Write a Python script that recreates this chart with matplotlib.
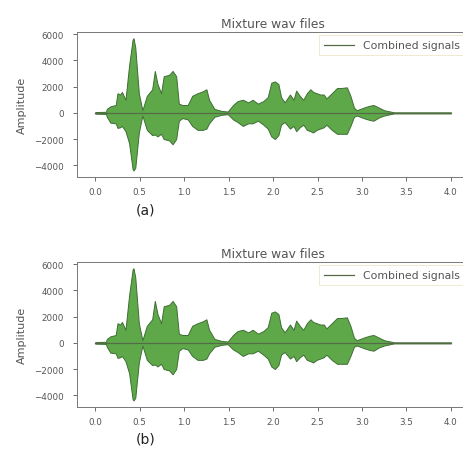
import numpy as np
import matplotlib
matplotlib.use("Agg")
import matplotlib.pyplot as plt

# envelope of the mixture waveform (time in s, amplitude)
t_env = [0.00, 0.12, 0.13, 0.17, 0.23, 0.25, 0.28, 0.30, 0.34, 0.38, 0.42, 0.43,
         0.45, 0.49, 0.53, 0.58, 0.64, 0.67, 0.70, 0.74, 0.77, 0.83, 0.87, 0.91,
         0.94, 0.98, 1.04, 1.09, 1.15, 1.21, 1.25, 1.28, 1.34, 1.42, 1.49, 1.55,
         1.60, 1.66, 1.72, 1.77, 1.83, 1.89, 1.94, 1.98, 2.02, 2.06, 2.09, 2.13,
         2.19, 2.23, 2.26, 2.30, 2.34, 2.38, 2.42, 2.45, 2.49, 2.53, 2.57, 2.60,
         2.66, 2.72, 2.77, 2.83, 2.87, 2.91, 2.94, 2.98, 3.04, 3.09, 3.13, 3.19,
         3.25, 3.32, 3.36, 4.00]
upper = [60, 80, 300, 500, 600, 1500, 1400, 1600, 1000, 3600, 5600, 5700,
         5000, 1500, 200, 1300, 1800, 3200, 2200, 1500, 2800, 2900, 3200, 2800,
         700, 600, 600, 1300, 1500, 1650, 1800, 1000, 300, 150, 100, 600,
         900, 1000, 800, 1000, 700, 900, 1200, 2300, 2400, 2200, 1200, 800,
         1400, 1000, 1700, 1300, 1000, 1500, 1800, 1600, 1500, 1400, 1400, 1100,
         1500, 1900, 1900, 1950, 1300, 400, 200, 300, 450, 550, 600, 400,
         200, 100, 40, 40]
lower = [-60, -80, -300, -750, -800, -1150, -1100, -1000, -1400, -2300, -4300, -4400,
         -4200, -1500, -200, -1300, -1700, -1650, -1800, -1600, -2000, -2100, -2400, -2000,
         -600, -400, -500, -1000, -1300, -1300, -1200, -800, -300, -150, -100, -500,
         -700, -1000, -800, -800, -600, -900, -1200, -1800, -2000, -1700, -900, -700,
         -1200, -1000, -1400, -1100, -900, -1300, -1400, -1500, -1300, -1200, -1100, -900,
         -1300, -1600, -1600, -1600, -1000, -300, -200, -300, -450, -550, -600, -350,
         -200, -100, -40, -40]

x_ticks = [0.0, 0.5, 1.0, 1.5, 2.0, 2.5, 3.0, 3.5, 4.0]
y_ticks = [-4000, -2000, 0, 2000, 4000, 6000]
captions = ["(a)", "(b)"]

fill_col = "#5ea84a"
edge_col = "#3e6e34"
line_col = "#556b45"
text_col = "#555555"

fig = plt.figure(figsize=(4.64, 4.60), dpi=100)
bottoms = [0.613, 0.113]
caption_y = [210, 440]

for i, cap in enumerate(captions):
    ax = fig.add_axes([0.167, bottoms[i], 0.843, 0.316])
    ax.fill_between(t_env, lower, upper, facecolor=fill_col, edgecolor=edge_col,
                    linewidth=0.7)
    ax.plot([0, 4.0], [0, 0], color=line_col, linewidth=0.9, label="Combined signals")
    ax.set_xlim(-0.2, 4.2)
    ax.set_ylim(-4900, 6200)
    ax.set_xticks(x_ticks)
    ax.set_xticklabels([f"{v:.1f}" for v in x_ticks])
    ax.set_yticks(y_ticks)
    ax.tick_params(labelsize=6.3, colors=text_col, length=3, width=0.6)
    ax.tick_params(axis="y", pad=7)
    ax.tick_params(axis="x", pad=4.5)
    for s in ax.spines.values():
        s.set_color("#777777")
        s.set_linewidth(0.7)
    ax.set_title("Mixture wav files", fontsize=8.8, color=text_col, pad=3.5)
    ax.set_ylabel("Amplitude", fontsize=8, color=text_col, labelpad=5)
    leg = ax.legend(loc="upper right", fontsize=7.8, handlelength=2.8,
                    borderaxespad=0.35, fancybox=False, framealpha=1,
                    borderpad=0.45)
    leg.get_frame().set_edgecolor("#ece8c8")
    leg.get_frame().set_linewidth(0.6)
    for txt in leg.get_texts():
        txt.set_color(text_col)
    fig.text(146 / 464, 1 - caption_y[i] / 460, cap, fontsize=10, color="#222222",
             ha="center", va="center")

fig.savefig("out.png", dpi=100)
